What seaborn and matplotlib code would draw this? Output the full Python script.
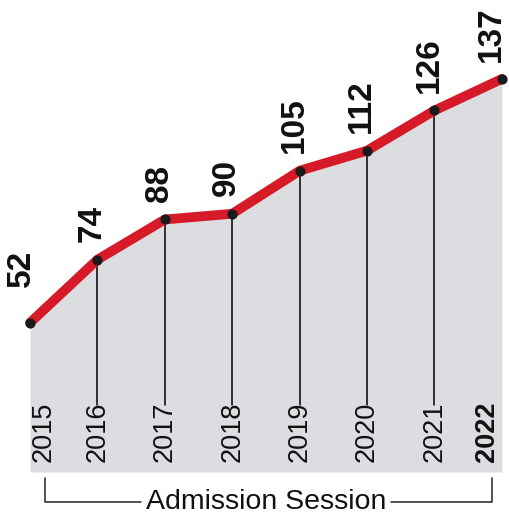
import matplotlib
matplotlib.use("Agg")
import matplotlib.pyplot as plt
import seaborn as sns
import pandas as pd

years = [2015, 2016, 2017, 2018, 2019, 2020, 2021, 2022]
values = [52, 74, 88, 90, 105, 112, 126, 137]
axis_title = "Admission Session"

sns.set_style("white")
plt.rcParams['font.family'] = ['Liberation Sans', 'DejaVu Sans']

df = pd.DataFrame({"year": years, "value": values})

fig = plt.figure(figsize=(5.10, 5.13), dpi=100)
ax = fig.add_axes([0, 0, 1, 1])

red = "#d71a28"
gray = "#dcdde0"

# grey area under the line
ax.fill_between(df["year"], 0, df["value"], color=gray, lw=0, zorder=1)

# thin drop lines from point down to the year label
for yr, v in zip(years[1:-1], values[1:-1]):
    ax.plot([yr, yr], [v, 23.5], color="black", lw=1.1, zorder=2)

sns.lineplot(data=df, x="year", y="value", ax=ax, color=red, lw=7,
             solid_capstyle="round", solid_joinstyle="round", zorder=3)
ax.scatter(df["year"], df["value"], s=40, color="#1a1a1a", zorder=4)

# value labels (first one sits further from the line, last one kept inside)
for i, (yr, v) in enumerate(zip(years, values)):
    off = (-4, 12.5)
    if i == 0:
        off = (-6, 26)
    elif i == len(years) - 1:
        off = (-7.5, 12)
    ax.annotate(str(v), (yr, v), xytext=off, textcoords="offset points",
                rotation=90, ha="center", va="bottom",
                fontsize=24, fontweight="bold", color="#111111")

# year labels
for i, yr in enumerate(years):
    dx = 0
    if i == 0:
        dx = 0.2
    elif i == len(years) - 1:
        dx = -0.22
    ax.text(yr + dx, 3.4, str(yr), rotation=90, ha="center", va="bottom",
            fontsize=19.5, color="#111111",
            fontweight="bold" if i == len(years) - 1 else "normal")

# bracket with axis title
xl, xr = years[0] + 0.22, years[-1] - 0.15
yb, yt = -10.5, -2.0
xm = (years[0] + years[-1]) / 2
ax.plot([xl, xl, xm - 1.85], [yt, yb, yb], color="#222222", lw=1.1)
ax.plot([xm + 1.85, xr, xr], [yb, yb, yt], color="#222222", lw=1.1)
ax.text(xm, yb + 0.2, axis_title, ha="center", va="center",
        fontsize=20.5, color="#111111")

ax.set_xlim(2014.555, 2022.12)
ax.set_ylim(-14.3, 164.5)
ax.axis("off")

fig.savefig("out.png", dpi=100)
